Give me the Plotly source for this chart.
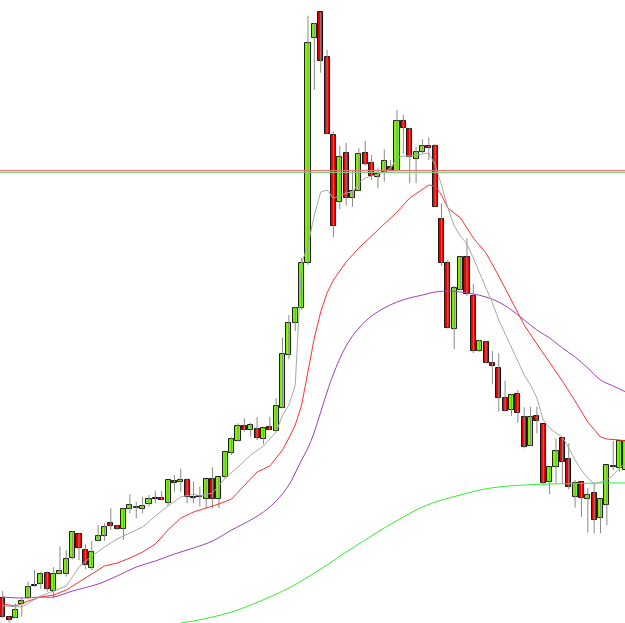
import plotly.graph_objects as go

# ---- candle data (price units, arbitrary scale) ----
opens = [25, 6, 5.3, 19.3, 25.3, 37, 38.7, 50.3, 32, 49.3,
         48.7, 64.7, 88.7, 72.7, 55.3, 82.3, 87, 99.7, 97, 93.7,
         113.7, 115, 114, 119, 124, 125, 119.7, 142, 140.7, 142.7,
         125.3, 126, 123.7, 144.3, 123.7, 145.7, 169.7, 182.3, 196.7, 193,
         194.3, 184, 196, 192, 214.7, 268, 300.3, 315, 359.7, 585.3,
         610.7, 566.3, 488, 420.7, 469.7, 424.7, 432, 469.7, 459.7, 446.3,
         451.3, 456.3, 452.3, 502, 493.7, 463.7, 471.3, 477, 477.3, 403.7,
         359.7, 293.7, 333, 365.7, 327.3, 272, 280.7, 259.7, 254.7, 224.7,
         213, 228.7, 205.7, 177, 207, 198.7, 140.7, 156.3, 184.7, 163.7,
         126.3, 141.3, 124, 129.7, 104.7, 118, 156.3, 154.7, 153]
highs = [32, 6.5, 19.7, 25.3, 41.3, 53, 51.3, 51.7, 55.7, 76.7,
         73, 91.7, 89.7, 78.7, 82, 98, 99.7, 114.7, 98, 114.7,
         128.7, 121.3, 126.3, 128, 132.3, 132, 142.7, 148, 154.3, 144.7,
         141.3, 136.3, 143.7, 155.7, 146, 171.3, 185.7, 199.7, 204.7, 200.3,
         205.7, 195.3, 206.3, 224.7, 285.3, 308, 316.3, 365, 607.3, 600.3,
         610.7, 573, 491.3, 477, 480.3, 453, 474.7, 482.3, 468, 455.3,
         473.7, 463, 513, 508, 495, 476.3, 483.7, 485.7, 479, 419.7,
         363, 337, 366.3, 384.7, 339, 283, 282, 272, 269.7, 242.3,
         228.7, 233, 215.7, 216.3, 216.3, 198.7, 156.3, 184.7, 184.7, 179.7,
         143, 141.3, 135, 140.3, 123.7, 158, 182, 182, 184]
lows = [5, 0.5, 5, 6.3, 23.7, 36, 33.7, 31.3, 24.7, 49.3,
        46.3, 63.7, 63, 54, 53, 82, 82.3, 93, 93, 83,
        109.7, 104.7, 109.7, 116.3, 119.7, 123, 117, 131.3, 131.3, 119.7,
        119.7, 116.3, 114.7, 114.7, 115, 144.7, 168, 181.3, 191.3, 186.3,
        183, 178.7, 193, 190.7, 214.7, 263.7, 292, 313, 358, 533,
        550.3, 488.7, 385.7, 413.7, 417.3, 416.3, 432, 457.3, 443, 434.7,
        441.3, 452, 452.3, 469.7, 439.7, 439.7, 469.7, 463, 416.3, 357,
        295.3, 273.7, 333, 327, 269.7, 271, 259.7, 238.7, 211.3, 211.3,
        207, 200.3, 174.7, 177, 189.7, 139, 129, 139.7, 139.7, 133.7,
        115.3, 106.3, 90.3, 89.7, 89.7, 98, 153, 151.3, 151]
closes = [6, 3.5, 13, 21.7, 36.3, 37, 48.7, 33.7, 49.3, 52,
          63.7, 90.7, 74.7, 58, 71.3, 87, 96.3, 97.3, 93.7, 113.7,
          117.7, 116, 117, 124, 124, 123, 142.7, 140.3, 142.7, 126.3,
          125.3, 126, 143.7, 123.7, 146, 170.7, 184, 196.7, 193, 198,
          185.3, 195.3, 193.3, 217.3, 269.3, 300.3, 314.7, 359.7, 579.7, 598.7,
          562.3, 488.7, 397, 466.3, 424.7, 432, 468.7, 459, 447.3, 448.7,
          462, 452.3, 502, 494.7, 465.7, 471.3, 477, 474.7, 416.3, 359.7,
          295.3, 335.3, 366.3, 328.7, 272, 281.7, 259.7, 257, 224.7, 212,
          227.7, 210.3, 176.3, 205.7, 202, 139.7, 156.3, 172.3, 161.3, 136.3,
          139.7, 124.7, 128, 103, 123.7, 158, 156.3, 182, 182]

# ---- moving averages (bar index, value) ----
ma_fast_idx = [0, 3, 6, 8, 10, 12, 14, 16, 18, 20, 22, 24, 26, 28, 30, 31, 33, 35, 37, 39,
               41, 43, 44, 45, 46, 47, 48, 49, 50, 51, 52, 53, 54, 55, 56, 57, 58, 59, 60, 61,
               62, 63, 64, 65, 66, 67, 68, 69, 70, 71, 72, 73, 74, 75, 76, 77, 78, 79, 80, 81,
               82, 83, 84, 85, 86, 87, 88, 89, 90, 91, 92, 93, 94, 95, 96, 97, 98]
ma_fast = [17, 16, 27, 32, 37, 56, 67, 76, 84, 90, 96, 107, 117, 126, 129, 127, 130, 145, 156, 168,
           177, 191, 208, 218, 238, 360, 378, 408, 431, 433, 425, 427, 430, 431, 440, 445, 447, 449, 451, 455,
           465, 467, 467, 468, 469, 470, 458, 438, 415, 397, 387, 379, 365, 350, 335, 320, 303, 289, 276, 261,
           248, 238, 225, 203, 195, 190, 186, 175, 163, 153, 145, 139, 141, 143, 148, 155, 160]

ma_mid_idx = [0, 2, 4, 6, 8, 10, 12, 14, 16, 18, 20, 22, 24, 26, 28, 30, 32, 34, 36, 38,
              40, 42, 43, 44, 45, 46, 47, 48, 49, 50, 51, 52, 54, 56, 58, 60, 62, 64, 66, 67,
              68, 69, 70, 72, 74, 76, 78, 80, 82, 84, 86, 88, 90, 92, 94, 95, 97, 98]
ma_mid = [19, 17, 22, 26, 28, 33, 41, 49, 57, 60, 65, 71, 79, 93, 105, 111, 115, 119, 124, 138,
          151, 157, 165, 173, 185, 198, 218, 253, 285, 311, 330, 343, 361, 375, 387, 398, 411, 425, 434, 438,
          437, 428, 415, 405, 385, 370, 347, 323, 298, 279, 261, 242, 222, 201, 186, 184, 183, 182]

ma_slow_idx = [0, 3, 6, 8, 11, 15, 18, 21, 24, 27, 30, 33, 36, 39, 41, 43, 45, 46, 47, 48,
               49, 50, 51, 52, 54, 56, 58, 60, 62, 64, 66, 68, 70, 72, 74, 76, 78, 80, 82, 84,
               86, 88, 90, 92, 94, 96, 98]
ma_slow = [26, 25, 26, 26, 32, 39, 47, 56, 62, 69, 75, 82, 93, 103, 111, 122, 138, 150, 163, 175,
           191, 211, 231, 249, 277, 295, 307, 315, 321, 325, 328, 331, 332, 331, 329, 326, 321, 313, 303, 293,
           285, 275, 266, 255, 243, 237, 231]

ma_long_idx = [28, 30, 33, 36, 39, 42, 45, 48, 51, 54, 57, 60, 63, 66, 69, 72, 75, 78, 82, 86,
               90, 94, 98]
ma_long = [0, 2, 6, 11, 18, 26, 35, 46, 58, 71, 83, 95, 106, 116, 123, 128, 133, 136, 138, 139,
           139.5, 140, 140]

level_red = 452.3
level_green = 450.5

UP = "#7CFC00"
DOWN = "#F00000"

n = len(opens)
idx = list(range(n))

fig = go.Figure()

# wicks
wx, wy = [], []
for i in idx:
    wx += [i, i, None]
    wy += [lows[i], highs[i], None]
fig.add_trace(go.Scatter(x=wx, y=wy, mode="lines",
                         line=dict(color="#8a8a8a", width=1), hoverinfo="skip"))

# bodies
base, height, colors = [], [], []
for i in idx:
    o, c = opens[i], closes[i]
    lo = min(o, c)
    h = abs(c - o)
    if h < 0.8:
        h = 0.8
        col = "#000000"
    else:
        col = UP if c > o else DOWN
    base.append(lo)
    height.append(h)
    colors.append(col)
fig.add_trace(go.Bar(x=idx, y=height, base=base, width=0.8,
                     marker=dict(color=colors, line=dict(color="#000000", width=0.9))))

# moving averages
fig.add_trace(go.Scatter(x=ma_long_idx, y=ma_long, mode="lines", line_shape="spline",
                         line=dict(color="#33ee33", width=1)))
fig.add_trace(go.Scatter(x=ma_slow_idx, y=ma_slow, mode="lines", line_shape="spline",
                         line=dict(color="#a040b8", width=1)))
fig.add_trace(go.Scatter(x=ma_mid_idx, y=ma_mid, mode="lines",
                         line=dict(color="#ff3030", width=1)))
fig.add_trace(go.Scatter(x=ma_fast_idx, y=ma_fast, mode="lines",
                         line=dict(color="#a8a8a8", width=1)))

fig.add_hline(y=level_red, line=dict(color="#f07070", width=1.2))
fig.add_hline(y=level_green, line=dict(color="#80cc80", width=1.2))

fig.update_layout(
    width=625, height=623,
    margin=dict(l=0, r=0, t=0, b=0),
    paper_bgcolor="white", plot_bgcolor="white",
    showlegend=False, bargap=0,
    xaxis=dict(visible=False, range=[-0.425, 97.85], fixedrange=True),
    yaxis=dict(visible=False, range=[0, 623], fixedrange=True),
)

fig.write_html("out.html")
